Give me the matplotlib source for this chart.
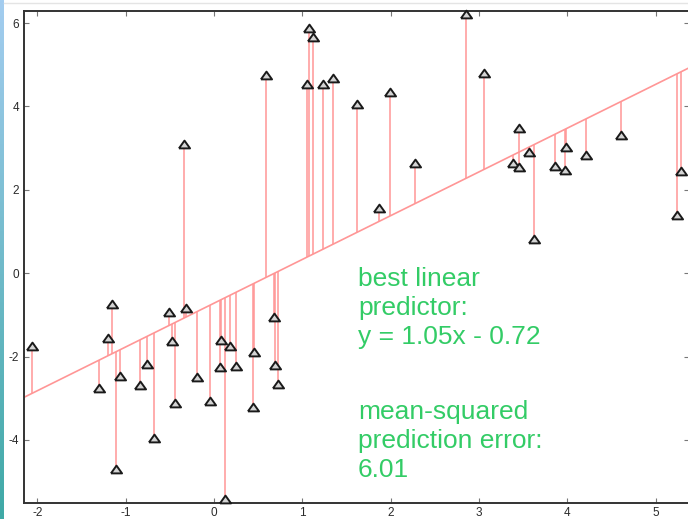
import numpy as np
import matplotlib
matplotlib.use("Agg")
import matplotlib.pyplot as plt

plt.rcParams["axes.unicode_minus"] = False

# points
x_pts = [-2.06, -1.30, -1.20, -1.15, -1.11, -1.06, -0.84, -0.76, -0.68, -0.51,
         -0.48, -0.44, -0.32, -0.34, -0.19, -0.05, 0.08, 0.07, 0.12, 0.18,
         0.25, 0.45, 0.44, 0.59, 0.68, 0.69, 0.72, 1.05, 1.08, 1.12,
         1.23, 1.35, 1.62, 1.87, 1.99, 2.27, 2.85, 3.06, 3.38, 3.45,
         3.45, 3.57, 3.62, 3.86, 3.97, 3.98, 4.21, 4.61, 5.24, 5.29]
y_pts = [-1.74, -2.76, -1.55, -0.74, -4.70, -2.46, -2.68, -2.18, -3.95, -0.93,
         -1.62, -3.11, -0.83, 3.11, -2.49, -3.06, -1.60, -2.25, -5.41, -1.74,
         -2.22, -1.89, -3.21, 4.75, -1.05, -2.20, -2.66, 4.54, 5.88, 5.67,
         4.54, 4.68, 4.06, 1.57, 4.35, 2.65, 6.22, 4.80, 2.65, 3.48,
         2.55, 2.91, 0.82, 2.57, 2.48, 3.03, 2.84, 3.31, 1.40, 2.45]
slope = 1.05
intercept = -0.72
mse = 6.01

x_ticks = [-2, -1, 0, 1, 2, 3, 4, 5]
y_ticks = [-4, -2, 0, 2, 4, 6]

x_pts = np.array(x_pts)
y_pts = np.array(y_pts)
fit = slope * x_pts + intercept

fig = plt.figure(figsize=(6.88, 5.19), dpi=100)

# slide decoration: blue strip on the left, faint line at top
strip = fig.add_axes([0, 0, 4 / 688, 1])
grad = np.linspace(0, 1, 256).reshape(-1, 1)
cmap = matplotlib.colors.LinearSegmentedColormap.from_list("s", ["#a4cdf0", "#3fa9a6"])
strip.imshow(grad, aspect="auto", cmap=cmap)
strip.axis("off")
fig.add_artist(plt.Line2D([4 / 688, 1], [1 - 2.5 / 519, 1 - 2.5 / 519], color="#e4e4e4", lw=1))

ax = fig.add_axes([23.5 / 688, 1 - 502.5 / 519, 665.5 / 688, 492 / 519])
ax.set_xlim(-2.156, 5.376)
ax.set_ylim(-5.50, 6.30)

red = "#ff9696"
xl = np.array(ax.get_xlim())
ax.plot(xl, slope * xl + intercept, color=red, lw=1.2)
ax.vlines(x_pts, y_pts, fit, color=red, lw=1.1)

tri = [(-1, -0.7), (1, -0.7), (0, 0.7), (-1, -0.7)]
ax.plot(x_pts, y_pts, linestyle="none", marker=tri, markersize=8,
        mfc="#d4d4d4", mec="#1a1a1a", mew=1.4, clip_on=False, zorder=3)

ax.set_xticks(x_ticks)
ax.set_yticks(y_ticks)
ax.tick_params(direction="in", length=3.5, width=0.8, color="#777777",
               labelsize=8.5, labelcolor="#2a2a2a", top=True, right=True, pad=3)
for lab in ax.get_xticklabels() + ax.get_yticklabels():
    lab.set_fontfamily("Liberation Sans")
for s in ax.spines.values():
    s.set_color("#333333")
    s.set_linewidth(1.4)

green = "#33cc66"
ax.text(0.5026, 1 - (267 - 10.5) / 492, "best linear\npredictor:\ny = 1.05x - 0.72",
        transform=ax.transAxes, ha="left", va="top", fontsize=19, color=green,
        family="Liberation Sans", linespacing=1.26)
ax.text(0.5026, 1 - (400 - 10.5) / 492, "mean-squared\nprediction error:\n%.2f" % mse,
        transform=ax.transAxes, ha="left", va="top", fontsize=19, color=green,
        family="Liberation Sans", linespacing=1.26)

fig.savefig("out.png", dpi=100)
